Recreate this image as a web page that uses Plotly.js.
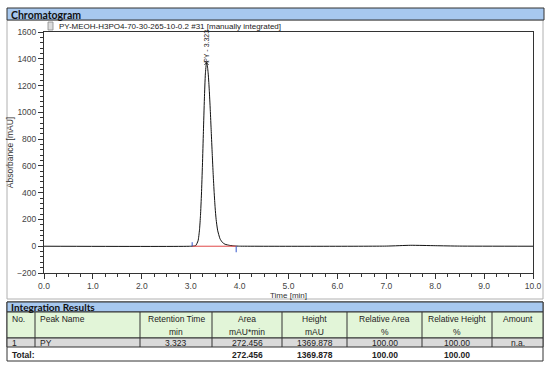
<!DOCTYPE html>
<html>
<head>
<meta charset="utf-8">
<script src="https://cdn.plot.ly/plotly-3.0.1.min.js"></script>
<style>
html,body{margin:0;padding:0;background:#fff;}
#chart{width:550px;height:369px;}
</style>
</head>
<body>
<div id="chart"></div>
<script>
// ---- Data ----
const time = [0, 3.0, 3.10, 3.15, 3.18, 3.20, 3.22, 3.24, 3.26, 3.28, 3.30, 3.323, 3.34, 3.36, 3.38, 3.40, 3.42, 3.44, 3.46, 3.48, 3.50, 3.52, 3.55, 3.60, 3.65, 3.70, 3.80, 3.90, 4.0, 7.0, 7.5, 8.0, 8.5, 10.0];
const absorbance = [0, 0, 4, 40, 122, 229, 390, 606, 856, 1100, 1287, 1369.878, 1350, 1280, 1165, 1019, 856, 691, 536, 400, 286, 200, 120, 55, 28, 15, 6, 2, 0.5, 1, 7, 4, 1, 0];
const peakName = "PY";
const peakTime = 3.323;
const peakHeight = 1369.878;
const integStart = 3.03;
const integEnd = 3.93;
const chartTitle = "PY-MEOH-H3PO4-70-30-265-10-0.2 #31 [manually integrated]";
const xTicks = [0,1,2,3,4,5,6,7,8,9,10];
const yTicks = [-200,0,200,400,600,800,1000,1200,1400,1600];

const headers1 = ["No.","Peak Name","Retention Time","Area","Height","Relative Area","Relative Height","Amount"];
const headers2 = ["","","min","mAU*min","mAU","%","%",""];
const row1 = ["1","PY","3.323","272.456","1369.878","100.00","100.00","n.a."];
const totals = ["Total:","","","272.456","1369.878","100.00","100.00",""];

// ---- Layout helpers ----
const W = 550, H = 369;
const px = x => x / W;
const py = y => 1 - y / H;
const colEdges = [7,35,140,212,282,347,422,492,543];
const leftAligned = [true,true,false,false,false,false,false,false];
const font = "Liberation Sans, Arial, sans-serif";
const hfont = "Lato, Liberation Sans, sans-serif";

const shapes = [];
const annotations = [];

function rect(x0,y0,x1,y1,fill,lineColor,lw){
  shapes.push({type:'rect',xref:'paper',yref:'paper',x0:px(x0),x1:px(x1),y0:py(y1),y1:py(y0),
    fillcolor:fill||'rgba(0,0,0,0)',line:{color:lineColor||'rgba(0,0,0,0)',width:lw===undefined?1:lw},layer:'below'});
}
function line(x0,y0,x1,y1,c,w){
  shapes.push({type:'line',xref:'paper',yref:'paper',x0:px(x0),x1:px(x1),y0:py(y0),y1:py(y1),line:{color:c,width:w||1}});
}
function text(t,x,y,opts){
  opts=opts||{};
  annotations.push(Object.assign({text:t,xref:'paper',yref:'paper',x:px(x),y:py(y),showarrow:false,
    xanchor:opts.xanchor||'left',yanchor:'middle',font:{family:opts.family||font,size:opts.size||8.5,color:opts.color||'#222'}},opts.extra||{}));
}

// Chart panel
rect(7,20,543,299,'rgba(0,0,0,0)','#b0b0b0',1);
rect(7,8,544,20,'#a7c8ef','#333',1);
text('<b>Chromatogram</b>',9,14.5,{family:hfont,size:10.5,color:'#111'});
// small icon
rect(48,22,53,30,'#ddd','#888',0.8);
text(chartTitle,57,26.5,{size:8,color:'#222'});

// Integration panel
rect(7,302,543,361,'rgba(0,0,0,0)','#333',1);
rect(7,302,543,312,'#a7c8ef','#333',1);
text('<b>Integration Results</b>',9,307,{family:hfont,size:10,color:'#111'});
rect(7,312,543,338,'#e2f5d8','#333',1);
rect(7,338,543,347,'#dadada','#333',1);
for(let i=1;i<colEdges.length-1;i++){ line(colEdges[i],312,colEdges[i],347,'#333',1); }
for(let i=0;i<headers1.length;i++){
  const l = leftAligned[i];
  const x = l ? colEdges[i]+3 : (colEdges[i]+colEdges[i+1])/2;
  const xa = l ? 'left' : 'center';
  text(headers1[i],x,318.5,{xanchor:xa});
  if(headers2[i]) text(headers2[i],x,331.5,{xanchor:xa});
  text(row1[i],x,342.5,{xanchor:xa});
  if(totals[i]) text('<b>'+totals[i]+'</b>',x,355,{xanchor:xa});
}

// Peak label
annotations.push({text:peakName+' - '+peakTime.toFixed(3),x:peakTime,y:peakHeight,xref:'x',yref:'y',
  showarrow:false,textangle:-90,yanchor:'bottom',xanchor:'center',yshift:-2,
  font:{family:font,size:7,color:'#222'}});

const traces = [
  {x:time,y:absorbance,type:'scatter',mode:'lines',line:{color:'#111',width:1,shape:'spline',smoothing:0.5},hoverinfo:'skip'},
  {x:[integStart,integEnd],y:[0,0],type:'scatter',mode:'lines',line:{color:'#e04848',width:1},hoverinfo:'skip'},
  {x:[integStart,integStart,null,integEnd,integEnd],y:[0,30,null,0,-45],type:'scatter',mode:'lines',line:{color:'#3355cc',width:1},hoverinfo:'skip'},
  {x:[peakTime],y:[peakHeight],type:'scatter',mode:'markers',marker:{symbol:'x-thin-open',size:4,color:'#222',line:{width:1,color:'#222'}},hoverinfo:'skip'}
];

const layout = {
  width:W,height:H,margin:{l:0,r:0,t:0,b:0},
  paper_bgcolor:'#fff',plot_bgcolor:'#fff',showlegend:false,
  xaxis:{domain:[px(44),px(533)],range:[0,10],tickvals:xTicks,tickformat:'.1f',
    ticks:'outside',ticklen:5,tickcolor:'#333',showline:true,linecolor:'#333',linewidth:1,mirror:true,
    showgrid:false,zeroline:false,tickfont:{family:font,size:8.5,color:'#444'},
    minor:{dtick:0.25,ticks:'outside',ticklen:3,tickcolor:'#333'},
    title:{text:'Time [min]',font:{family:font,size:8,color:'#333'},standoff:2}},
  yaxis:{domain:[py(273),py(32)],range:[-200,1600],tickvals:yTicks,
    ticks:'outside',ticklen:5,tickcolor:'#333',showline:true,linecolor:'#333',linewidth:1,mirror:true,
    showgrid:false,zeroline:false,tickfont:{family:font,size:8.5,color:'#444'},
    minor:{dtick:40,ticks:'outside',ticklen:3,tickcolor:'#333'},
    title:{text:'Absorbance [mAU]',font:{family:font,size:8.5,color:'#333'},standoff:2}},
  shapes:shapes,annotations:annotations
};

Plotly.newPlot('chart',traces,layout,{staticPlot:true,displayModeBar:false});
</script>
</body>
</html>
